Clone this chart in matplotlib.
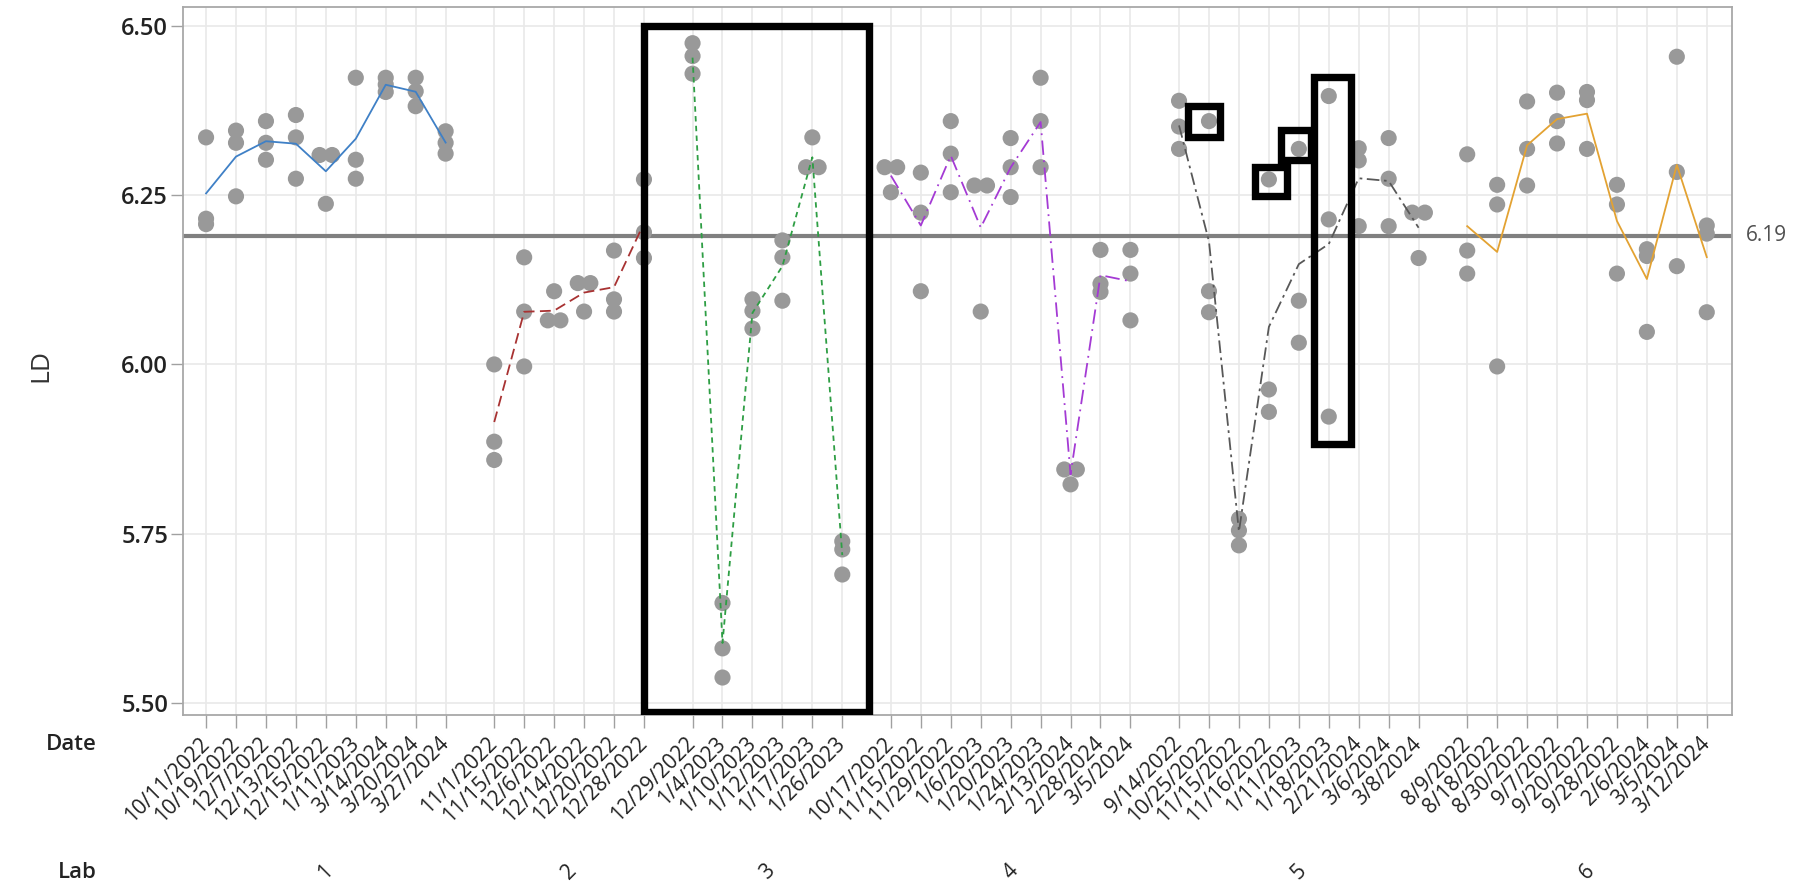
import numpy as np
import matplotlib
matplotlib.use("Agg")
import matplotlib.pyplot as plt
from matplotlib.patches import Rectangle
import matplotlib.transforms as mtransforms

plt.rcParams['font.family'] = ['Open Sans', 'DejaVu Sans']

# ---- data: LD measurements per lab and test date ----
labs = ["1", "2", "3", "4", "5", "6"]

lab1_dates = ["10/11/2022", "10/19/2022", "12/7/2022", "12/13/2022", "12/15/2022",
              "1/11/2023", "3/14/2024", "3/20/2024", "3/27/2024"]
lab1_ld = [[6.335, 6.215, 6.207], [6.345, 6.327, 6.248], [6.359, 6.327, 6.302],
           [6.368, 6.335, 6.274], [6.309, 6.309, 6.237], [6.423, 6.302, 6.274],
           [6.423, 6.413, 6.402], [6.423, 6.403, 6.381], [6.344, 6.327, 6.311]]

lab2_dates = ["11/1/2022", "11/15/2022", "12/6/2022", "12/14/2022", "12/20/2022", "12/28/2022"]
lab2_ld = [[6.000, 5.886, 5.859], [6.158, 6.078, 5.997], [6.108, 6.065, 6.065],
           [6.120, 6.120, 6.078], [6.168, 6.096, 6.078], [6.273, 6.195, 6.157]]

lab3_dates = ["12/29/2022", "1/4/2023", "1/10/2023", "1/12/2023", "1/17/2023", "1/26/2023"]
lab3_ld = [[6.474, 6.455, 6.429], [5.648, 5.581, 5.538], [6.096, 6.079, 6.053],
           [6.183, 6.158, 6.094], [6.335, 6.291, 6.291], [5.739, 5.727, 5.690]]

lab4_dates = ["10/17/2022", "11/15/2022", "11/29/2022", "1/6/2023", "1/20/2023",
              "1/24/2023", "2/13/2024", "2/28/2024", "3/5/2024"]
lab4_ld = [[6.291, 6.291, 6.254], [6.283, 6.224, 6.108], [6.359, 6.311, 6.254],
           [6.264, 6.264, 6.078], [6.334, 6.291, 6.247], [6.423, 6.359, 6.291],
           [5.845, 5.845, 5.823], [6.169, 6.119, 6.107], [6.169, 6.134, 6.065]]

lab5_dates = ["9/14/2022", "10/25/2022", "11/15/2022", "11/16/2022", "1/11/2023",
              "1/18/2023", "2/21/2024", "3/6/2024", "3/8/2024"]
lab5_ld = [[6.389, 6.351, 6.318], [6.359, 6.108, 6.077], [5.772, 5.755, 5.733],
           [6.273, 5.963, 5.930], [6.318, 6.094, 6.032], [6.396, 6.214, 5.923],
           [6.319, 6.301, 6.204], [6.334, 6.274, 6.204], [6.224, 6.224, 6.157]]

lab6_dates = ["8/9/2022", "8/18/2022", "8/30/2022", "9/7/2022", "9/20/2022",
              "9/28/2022", "2/6/2024", "3/5/2024", "3/12/2024"]
lab6_ld = [[6.310, 6.168, 6.134], [6.265, 6.236, 5.997], [6.388, 6.318, 6.264],
           [6.401, 6.359, 6.326], [6.402, 6.390, 6.318], [6.265, 6.236, 6.134],
           [6.170, 6.160, 6.048], [6.454, 6.284, 6.145], [6.205, 6.193, 6.077]]

overall_mean = 6.19

all_dates = [lab1_dates, lab2_dates, lab3_dates, lab4_dates, lab5_dates, lab6_dates]
all_ld = [lab1_ld, lab2_ld, lab3_ld, lab4_ld, lab5_ld, lab6_ld]

# ---- styles ----
line_colors = ["#3f80c6", "#a83232", "#2e9e44", "#a43ad4", "#585858", "#e3a232"]
line_styles = ["-", (0, (6, 3)), (0, (3, 2.4)), (0, (8, 3, 1, 3)),
               (0, (7, 2.5, 1.5, 2.5)), "-"]
point_color = "#999999"
group_gap = 1.623

fig = plt.figure(figsize=(18.06, 8.86), dpi=100)
ax = fig.add_axes([0.1012, 0.193, 0.8577, 0.7988])

# category positions: dates nested within labs, with a gap between labs
positions = []
start = 0.0
for dts in all_dates:
    p = start + np.arange(len(dts))
    positions.append(p)
    start = p[-1] + group_gap

for g, (pos, vals) in enumerate(zip(positions, all_ld)):
    means = []
    for x, v in zip(pos, vals):
        v = np.asarray(v)
        xs = np.full(len(v), x, dtype=float)
        # spread tied values side by side
        uniq, counts = np.unique(v, return_counts=True)
        for u, c in zip(uniq, counts):
            if c > 1:
                idx = np.where(v == u)[0]
                xs[idx] = x + (np.arange(c) - (c - 1) / 2) * 0.42
        ax.scatter(xs, v, s=135, color=point_color, edgecolors='none', zorder=3)
        means.append(v.mean())
    ax.plot(pos, means, color=line_colors[g], linestyle=line_styles[g], lw=1.3, zorder=4)

# overall mean reference line
ax.axhline(overall_mean, color="#808080", lw=3, zorder=2.5)
ax.text(1.009, overall_mean, f"{overall_mean:.2f}",
        transform=mtransforms.blended_transform_factory(ax.transAxes, ax.transData),
        ha='left', va='center', fontsize=15, color="#505050")

# highlight boxes around points of interest
def box(x0, x1, y0, y1):
    ax.add_patch(Rectangle((x0, y0), x1 - x0, y1 - y0, fill=False, edgecolor='black',
                           lw=5.3, zorder=6, joinstyle='miter'))

p3 = positions[2]
box(p3[0] - group_gap, p3[-1] + 0.9, 5.487, 6.50)
p5 = positions[4]
box(p5[1] - 0.70, p5[1] + 0.36, 6.336, 6.381)
box(p5[3] - 0.47, p5[3] + 0.59, 6.248, 6.292)
box(p5[4] - 0.60, p5[4] + 0.42, 6.301, 6.346)
box(p5[5] - 0.48, p5[5] + 0.75, 5.883, 6.424)

# axes
ax.set_xlim(-0.778, 50.95)
ax.set_ylim(5.4827, 6.527)
ax.set_yticks([5.50, 5.75, 6.00, 6.25, 6.50])
ax.set_yticklabels([f"{t:.2f}" for t in [5.50, 5.75, 6.00, 6.25, 6.50]],
                   fontsize=17, fontweight='semibold', color="#222222")
all_pos = np.concatenate(positions)
all_lbl = sum(all_dates, [])
ax.set_xticks(all_pos)
ax.set_xticklabels(all_lbl, rotation=45, ha='right', va='center',
                   rotation_mode='anchor', fontsize=15, color="#222222")
ax.tick_params(axis='x', length=9.4, width=1, color="#a0a0a0", pad=9)
ax.tick_params(axis='y', length=8.6, width=1, color="#a0a0a0", pad=2)
ax.grid(True, color="#e9e9e9", lw=1.2)
ax.set_axisbelow(True)
for s in ax.spines.values():
    s.set_color("#a8a8a8")
    s.set_linewidth(1.3)

# lab group labels
trans = mtransforms.blended_transform_factory(ax.transData, ax.transAxes)
for lab, pos in zip(labs, positions):
    ax.text(pos.mean(), -0.222, lab, transform=trans, rotation=45,
            ha='center', va='center', fontsize=15, color="#222222")

fig.text(0.0537, 1 - 745 / 886, "Date", ha='right', va='center', fontsize=16,
         fontweight='semibold', color="#222222")
fig.text(0.0537, 1 - 872 / 886, "Lab", ha='right', va='center', fontsize=16,
         fontweight='semibold', color="#222222")
fig.text(0.0225, 0.588, "LD", rotation=90, ha='center', va='center', fontsize=19,
         color="#333333")

fig.savefig("out.png", dpi=100)
